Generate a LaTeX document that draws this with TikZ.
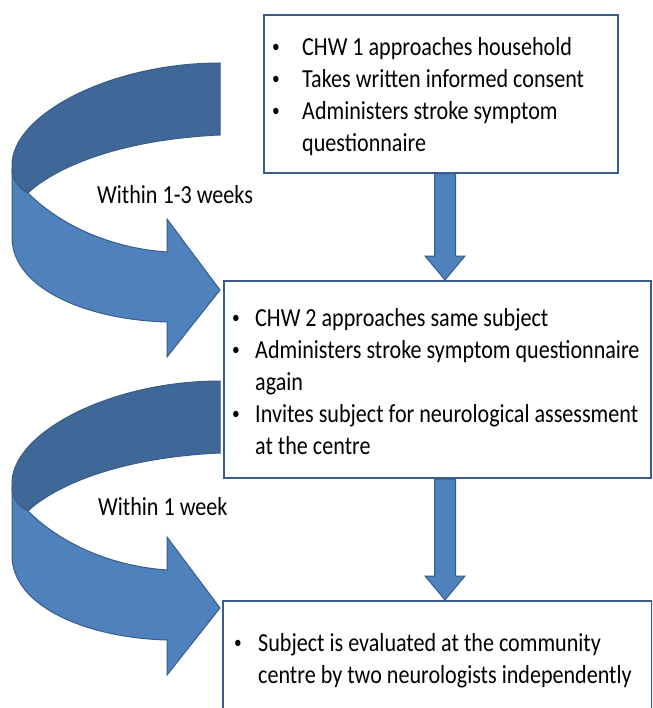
\documentclass[tikz,border=0pt]{standalone}
\usepackage{fontspec}
\setmainfont{Carlito}[FakeStretch=0.85]
\usetikzlibrary{calc}
\definecolor{boxline}{HTML}{385D8A}
\definecolor{arrowfill}{HTML}{4F81BD}
\definecolor{arrowback}{HTML}{3F6797}
\newcommand{\bul}{\raisebox{3pt}{\fontsize{18}{18}\selectfont\textbullet}}

\begin{document}
\begin{tikzpicture}[
    x=1pt, y=-1pt,
    font=\fontsize{26}{32}\selectfont,
    box/.style={draw=boxline, line width=2pt, fill=white, rectangle, anchor=north west, inner sep=0pt},
    txt/.style={anchor=base west, inner sep=0pt, align=left},
    downarrow/.style={draw=boxline, line width=1pt, fill=arrowfill,
      to path={let \p1=(\tikztostart), \p2=(\tikztotarget) in
        (\x1-10.5pt,\y1) -- (\x1-10.5pt,\y2+24pt) -- (\x1-20pt,\y2+24pt) -- (\x2,\y2)
        -- (\x1+20pt,\y2+24pt) -- (\x1+10.5pt,\y2+24pt) -- (\x1+10.5pt,\y1) -- cycle}},
    bentarrow/.pic={
      \filldraw[draw=boxline, fill=arrowback, line width=1pt]
        (220,63) .. controls (110,63) and (12,115) .. (12,165) -- (12,172)
        .. controls (14,183) and (20,189) .. (28,193)
        .. controls (50,172) and (110,140) .. (220,135) -- cycle;
      \filldraw[draw=boxline, fill=arrowfill, line width=1pt]
        (28,193) .. controls (60,225) and (110,248) .. (167,252) -- (167,219)
        -- (220,290) -- (167,357) -- (167,322)
        .. controls (90,320) and (12,290) .. (12,237) -- (12,172)
        .. controls (14,183) and (20,189) .. (28,193) -- cycle;
    }
  ]
    \clip (0,0) rectangle (652,708);
    % Bent arrows on the left
    \pic at (0,0) {bentarrow};
    \pic at (0,318) {bentarrow};
    % Boxes
    \node[box, minimum width=354pt, minimum height=158pt] (box1) at (263,14) {};
    \node[box, minimum width=427pt, minimum height=197pt] (box2) at (223,280) {};
    \node[box, minimum width=429pt, minimum height=130pt] (box3) at (222,600) {};
    % Arrows between boxes
    \coordinate (ax) at (445,0);
    \draw[downarrow] (box1.south -| ax) to (box2.north -| ax);
    \draw[downarrow] (box2.south -| ax) to (box3.north -| ax);
    % Texts
    \node[txt] (step1) at (272,56) {\begin{tabular}[t]{@{}p{30pt}@{}l@{}}
      \bul & CHW 1 approaches household\\
      \bul & Takes written informed consent\\
      \bul & Administers stroke symptom\\
           & questionnaire
    \end{tabular}};
    \node[txt] (step2) at (232,326) {\begin{tabular}[t]{@{}p{23pt}@{}l@{}}
      \bul & CHW 2 approaches same subject\\
      \bul & Administers stroke symptom questionnaire\\
           & again\\
      \bul & Invites subject for neurological assessment\\
           & at the centre
    \end{tabular}};
    \node[txt] (step3) at (234,651) {\begin{tabular}[t]{@{}p{24pt}@{}l@{}}
      \bul & Subject is evaluated at the community\\
           & centre by two neurologists independently
    \end{tabular}};
    \node[txt] (wait1) at (97,204) {Within 1-3 weeks};
    \node[txt] (wait2) at (98,515) {Within 1 week};
  \end{tikzpicture}
\end{document}
